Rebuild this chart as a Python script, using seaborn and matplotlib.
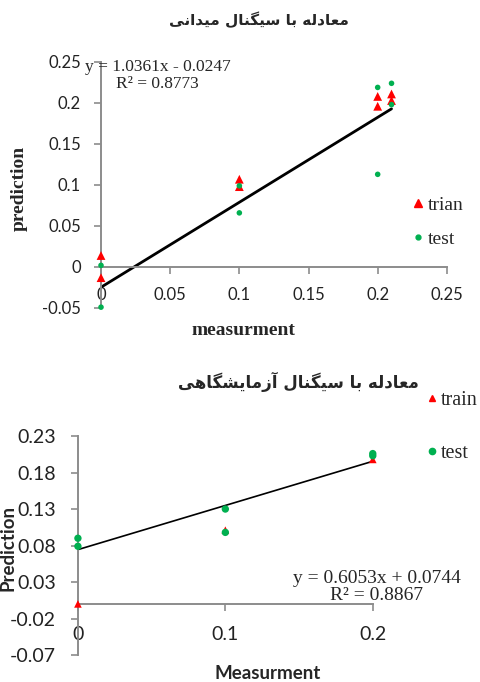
import matplotlib
matplotlib.use("Agg")
import matplotlib.pyplot as plt
import seaborn as sns
import numpy as np
import pandas as pd
from matplotlib.lines import Line2D

# ---- field-signal model ----
field_title = "معادله با سیگنال میدانی"
field_train_x = [0, 0, 0.1, 0.1, 0.2, 0.2, 0.21, 0.21]
field_train_y = [0.014, -0.013, 0.107, 0.098, 0.208, 0.196, 0.211, 0.203]
field_test_x = [0, 0, 0.1, 0.1, 0.2, 0.2, 0.21, 0.21]
field_test_y = [0.002, -0.049, 0.099, 0.066, 0.219, 0.113, 0.224, 0.198]
field_slope, field_intercept, field_r2 = 1.0361, -0.0247, 0.8773
field_xticks = [0, 0.05, 0.1, 0.15, 0.2, 0.25]
field_yticks = [-0.05, 0, 0.05, 0.1, 0.15, 0.2, 0.25]
field_xticklabels = ["0", "0.05", "0.1", "0.15", "0.2", "0.25"]
field_yticklabels = ["-0.05", "0", "0.05", "0.1", "0.15", "0.2", "0.25"]
field_labels = ["trian", "test"]

# ---- laboratory-signal model ----
lab_title = "معادله با سیگنال آزمایشگاهی"
lab_train_x = [0, 0.1, 0.2]
lab_train_y = [0.0, 0.101, 0.198]
lab_test_x = [0, 0, 0.1, 0.1, 0.2, 0.2]
lab_test_y = [0.090, 0.079, 0.130, 0.098, 0.206, 0.203]
lab_slope, lab_intercept, lab_r2 = 0.6053, 0.0744, 0.8867
lab_xticks = [0, 0.1, 0.2]
lab_yticks = [-0.07, -0.02, 0.03, 0.08, 0.13, 0.18, 0.23]
lab_xticklabels = ["0", "0.1", "0.2"]
lab_yticklabels = ["-0.07", "-0.02", "0.03", "0.08", "0.13", "0.18", "0.23"]
lab_labels = ["train", "test"]

RED = "#FF0000"
GREEN = "#00B050"
AXIS_GRAY = "#8C8C8C"

# Contextual letter forms (isolated, final, initial, medial) for Persian text,
# since matplotlib does not shape Arabic script itself.
FORMS = {
    'ا': ('\uFE8D', '\uFE8E', None, None),
    'آ': ('\uFE81', '\uFE82', None, None),
    'ب': ('\uFE8F', '\uFE90', '\uFE91', '\uFE92'),
    'د': ('\uFEA9', '\uFEAA', None, None),
    'ز': ('\uFEAF', '\uFEB0', None, None),
    'س': ('\uFEB1', '\uFEB2', '\uFEB3', '\uFEB4'),
    'ش': ('\uFEB5', '\uFEB6', '\uFEB7', '\uFEB8'),
    'ع': ('\uFEC9', '\uFECA', '\uFECB', '\uFECC'),
    'ل': ('\uFEDD', '\uFEDE', '\uFEDF', '\uFEE0'),
    'م': ('\uFEE1', '\uFEE2', '\uFEE3', '\uFEE4'),
    'ن': ('\uFEE5', '\uFEE6', '\uFEE7', '\uFEE8'),
    'ه': ('\uFEE9', '\uFEEA', '\uFEEB', '\uFEEC'),
    'ی': ('\uFBFC', '\uFBFD', '\uFBFE', '\uFBFF'),
    'گ': ('\uFB92', '\uFB93', '\uFB94', '\uFB95'),
}


def shape_rtl(text):
    out = []
    for i, ch in enumerate(text):
        if ch not in FORMS:
            out.append(ch)
            continue
        prev = text[i - 1] if i > 0 else ''
        nxt = text[i + 1] if i + 1 < len(text) else ''
        joins_prev = prev in FORMS and FORMS[prev][2] is not None
        joins_next = nxt in FORMS and FORMS[ch][2] is not None
        iso, fin, ini, med = FORMS[ch]
        if joins_prev and joins_next:
            out.append(med)
        elif joins_prev:
            out.append(fin)
        elif joins_next:
            out.append(ini)
        else:
            out.append(iso)
    return ''.join(reversed(out))


sns.set_style("white")
plt.rcParams['font.family'] = ['Lato', 'DejaVu Sans']
SERIF = ['Liberation Serif', 'DejaVu Serif']

fig = plt.figure(figsize=(4.81, 6.82), dpi=100)


def style_axes(ax, xlim, ylim, xticks, xticklabels, yticks, yticklabels,
               tick_size, pad):
    ax.set_xlim(*xlim)
    ax.set_ylim(*ylim)
    for side in ("top", "right"):
        ax.spines[side].set_visible(False)
    ax.spines["left"].set_position(("data", 0))
    ax.spines["bottom"].set_position(("data", 0))
    for side in ("left", "bottom"):
        ax.spines[side].set_color(AXIS_GRAY)
        ax.spines[side].set_linewidth(1.4)
    ax.set_xticks(xticks)
    ax.set_xticklabels(xticklabels)
    ax.set_yticks(yticks)
    ax.set_yticklabels(yticklabels)
    ax.tick_params(axis="both", direction="out", length=5, width=1.2,
                   color=AXIS_GRAY, labelsize=tick_size, labelcolor="#222222",
                   pad=pad, bottom=True, left=True)
    ax.grid(False)
    ax.set_facecolor("none")


# ================= top panel =================
ax1 = fig.add_axes([0.210, 0.5484, 0.719, 0.3607])
d_train = pd.DataFrame({"x": field_train_x, "y": field_train_y})
d_test = pd.DataFrame({"x": field_test_x, "y": field_test_y})
fx = np.array([min(field_train_x), max(field_train_x)])
sns.lineplot(x=fx, y=field_slope * fx + field_intercept, ax=ax1,
             color="black", linewidth=2.0, zorder=2)
sns.scatterplot(data=d_train, x="x", y="y", ax=ax1, marker="^", s=40,
                color=RED, edgecolor="none", zorder=3, clip_on=False)
sns.scatterplot(data=d_test, x="x", y="y", ax=ax1, marker="o", s=16,
                color=GREEN, edgecolor="none", zorder=4, clip_on=False)
style_axes(ax1, (0, 0.25), (-0.05, 0.25), field_xticks, field_xticklabels,
           field_yticks, field_yticklabels, 12, 9.5)
ax1.set_xlabel("measurment", family=SERIF, fontweight="bold", fontsize=14)
ax1.set_ylabel("prediction", family=SERIF, fontweight="bold", fontsize=14)
ax1.xaxis.set_label_coords(0.413, -0.057)
ax1.yaxis.set_label_coords(-0.212, 0.488)
ax1.text(0.041, 0.2535, f"y = {field_slope:.4f}x - {abs(field_intercept):.4f}\n"
         f"R² = {field_r2:.4f}", transform=ax1.transData, family=SERIF,
         fontsize=12.5, ha="center", va="top", linespacing=1.1,
         multialignment="center")
h1 = [Line2D([], [], marker="^", color=RED, linestyle="none", markersize=5.5),
      Line2D([], [], marker="o", color=GREEN, linestyle="none", markersize=3.5)]
fig.legend(h1, field_labels, loc="center left",
           bbox_to_anchor=(0.855, 1 - 222 / 682), frameon=False,
           borderpad=0, borderaxespad=0,
           prop={"family": SERIF, "size": 14}, labelspacing=0.85,
           handletextpad=0.15, handlelength=0.7)
fig.text(259 / 481, 1 - 20 / 682, shape_rtl(field_title),
         family=['DejaVu Sans'], fontweight="bold", fontsize=11,
         ha="center", va="center")

# ================= bottom panel =================
ax2 = fig.add_axes([0.162, 0.0396, 0.613, 0.321])
l_train = pd.DataFrame({"x": lab_train_x, "y": lab_train_y})
l_test = pd.DataFrame({"x": lab_test_x, "y": lab_test_y})
lx = np.array([min(lab_train_x), max(lab_train_x)])
sns.lineplot(x=lx, y=lab_slope * lx + lab_intercept, ax=ax2,
             color="black", linewidth=1.2, zorder=2)
sns.scatterplot(data=l_train, x="x", y="y", ax=ax2, marker="^", s=30,
                color=RED, edgecolor="none", zorder=3, clip_on=False)
sns.scatterplot(data=l_test, x="x", y="y", ax=ax2, marker="o", s=28,
                color=GREEN, edgecolor="none", zorder=4, clip_on=False)
style_axes(ax2, (0, 0.2), (-0.07, 0.23), lab_xticks, lab_xticklabels,
           lab_yticks, lab_yticklabels, 14, 11)
ax2.set_xlabel("Measurment", fontweight="bold", fontsize=13.5)
ax2.set_ylabel("Prediction", fontweight="bold", fontsize=13.5)
ax2.xaxis.set_label_coords(0.644, -0.046)
ax2.yaxis.set_label_coords(-0.207, 0.49)
ax2.text(0.2025, 0.047, f"y = {lab_slope:.4f}x + {lab_intercept:.4f}\n"
         f"R² = {lab_r2:.4f}", transform=ax2.transData, family=SERIF,
         fontsize=14, ha="center", va="top", linespacing=1.0,
         multialignment="center")
h2 = [Line2D([], [], marker="^", color=RED, linestyle="none", markersize=4.5),
      Line2D([], [], marker="o", color=GREEN, linestyle="none", markersize=4.5)]
fig.legend(h2, lab_labels, loc="center left",
           bbox_to_anchor=(0.884, 1 - 427 / 682), frameon=False,
           borderpad=0, borderaxespad=0,
           prop={"family": SERIF, "size": 14.5}, labelspacing=1.65,
           handletextpad=0.1, handlelength=0.7)
fig.text(298 / 481, 1 - 382 / 682, shape_rtl(lab_title),
         family=['DejaVu Sans'], fontweight="bold", fontsize=12,
         ha="center", va="center")

fig.savefig("out.png", dpi=100)
